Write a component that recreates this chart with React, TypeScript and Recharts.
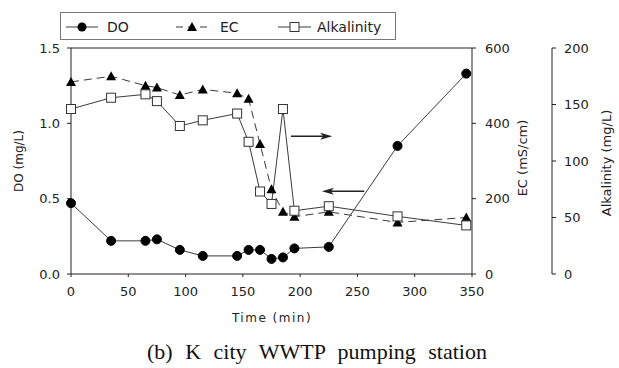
import React from "react";
import {
  ComposedChart,
  Line,
  XAxis,
  YAxis,
  ReferenceLine,
} from "recharts";

const times = [0, 35, 65, 75, 95, 115, 145, 155, 165, 175, 185, 195, 225, 285, 345];
const doValues = [0.47, 0.22, 0.22, 0.23, 0.16, 0.12, 0.12, 0.16, 0.16, 0.1, 0.11, 0.17, 0.18, 0.85, 1.33];
const ecValues = [510, 525, 500, 495, 475, 490, 480, 465, 345, 225, 165, 152, 165, 137, 150];
const alkValues = [146, 156, 159, 153, 131, 136, 142, 117, 73, 62, 146, 56, 60, 51, 43];

const xTicks = [0, 50, 100, 150, 200, 250, 300, 350];
const doTicks = [0, 0.5, 1.0, 1.5];
const ecTicks = [0, 200, 400, 600];
const alkTicks = [0, 50, 100, 150, 200];

// annotation arrows (in time / DO units)
const arrowRight = [{ x: 192, y: 0.915 }, { x: 228, y: 0.915 }];
const arrowLeft = [{ x: 256, y: 0.55 }, { x: 219, y: 0.55 }];

const data = times.map((t, i) => ({
  t,
  DO: doValues[i],
  EC: ecValues[i],
  Alk: alkValues[i],
}));

const FONT = "'DejaVu Sans', Verdana, sans-serif";
const AXIS = "#222";
const LINE = "#3a3a3a";

const EC_ID = "rightA_ec";
const ALK_ID = "rightB_alk";

const tickStyle = { fontSize: 13, fill: "#222", fontFamily: FONT };

const Circle = (p: any) => (
  <circle key={`c${p.index}`} cx={p.cx} cy={p.cy} r={4.5} fill="#000" stroke="#000" />
);
const Triangle = (p: any) => (
  <polygon
    key={`t${p.index}`}
    points={`${p.cx},${p.cy - 5} ${p.cx - 5},${p.cy + 4} ${p.cx + 5},${p.cy + 4}`}
    fill="#000"
  />
);
const Square = (p: any) => (
  <rect key={`s${p.index}`} x={p.cx - 4.5} y={p.cy - 4.5} width={9} height={9} fill="#fff" stroke="#333" strokeWidth={1} />
);

const Arrow = (p: any) => {
  const { x1, y1, x2, y2 } = p;
  const dir = x2 > x1 ? 1 : -1;
  return (
    <g>
      <line x1={x1} y1={y1} x2={x2 - dir * 8} y2={y2} stroke="#222" strokeWidth={1.5} />
      <polygon
        points={`${x2},${y2} ${x2 - dir * 12},${y2 - 3.5} ${x2 - dir * 9},${y2} ${x2 - dir * 12},${y2 + 3.5}`}
        fill="#222"
      />
    </g>
  );
};

const Legend = () => (
  <div
    style={{
      position: "absolute",
      left: 60,
      top: 12,
      width: 336,
      height: 28,
      border: "1px solid #777",
      boxSizing: "border-box",
      fontFamily: FONT,
      fontSize: 14,
      color: "#222",
    }}
  >
    <svg width={336} height={28} style={{ position: "absolute", left: 0, top: 0 }}>
      <line x1={5} y1={14} x2={37} y2={14} stroke={LINE} />
      <circle cx={21} cy={14} r={4.5} fill="#000" />
      <line x1={115} y1={14} x2={147} y2={14} stroke={LINE} strokeDasharray="7 5" />
      <polygon points="131,9 126,18 136,18" fill="#000" />
      <line x1={217} y1={14} x2={250} y2={14} stroke={LINE} />
      <rect x={229} y={9.5} width={9} height={9} fill="#fff" stroke="#333" />
      <text x={46} y={19} fontSize={14} fontFamily={FONT} fill="#222">DO</text>
      <text x={159} y={19} fontSize={14} fontFamily={FONT} fill="#222">EC</text>
      <text x={256} y={19} fontSize={14} fontFamily={FONT} fill="#222">Alkalinity</text>
    </svg>
  </div>
);

const rotLabel = (text: string, cx: number, cy: number, size: number) => (
  <div
    style={{
      position: "absolute",
      left: cx - 100,
      top: cy - 10,
      width: 200,
      height: 20,
      lineHeight: "20px",
      textAlign: "center",
      transform: "rotate(-90deg)",
      fontFamily: FONT,
      fontSize: size,
      color: "#222",
      whiteSpace: "nowrap",
    }}
  >
    {text}
  </div>
);

export default function App() {
  return (
    <div style={{ position: "absolute", left: 0, top: 0, width: 619, height: 368, background: "#fff" }}>
      <ComposedChart
        width={619}
        height={368}
        data={data}
        margin={{ top: 48, right: 7, bottom: 64, left: 11 }}
      >
        <XAxis
          dataKey="t"
          type="number"
          domain={[0, 350]}
          ticks={xTicks}
          tick={tickStyle}
          tickSize={3}
          tickMargin={10}
          height={30}
          stroke={AXIS}
          interval={0}
        />
        <YAxis
          yAxisId="do"
          orientation="left"
          domain={[0, 1.5]}
          ticks={doTicks}
          tickFormatter={(v: number) => v.toFixed(1)}
          tick={tickStyle}
          tickSize={4}
          tickMargin={7}
          width={60}
          stroke={AXIS}
          interval={0}
        />
        <YAxis
          yAxisId={EC_ID}
          orientation="right"
          domain={[0, 600]}
          ticks={ecTicks}
          tick={tickStyle}
          tickSize={4}
          tickMargin={9}
          width={80}
          stroke={AXIS}
          interval={0}
        />
        <YAxis
          yAxisId={ALK_ID}
          orientation="right"
          domain={[0, 200]}
          ticks={alkTicks}
          tick={tickStyle}
          tickSize={4}
          tickMargin={8}
          width={60}
          stroke={AXIS}
          interval={0}
        />
        <ReferenceLine yAxisId="do" y={1.5} stroke={AXIS} />
        <Line
          yAxisId={EC_ID}
          dataKey="EC"
          stroke={LINE}
          strokeWidth={1}
          strokeDasharray="8 5"
          dot={Triangle}
          isAnimationActive={false}
        />
        <Line
          yAxisId={ALK_ID}
          dataKey="Alk"
          stroke={LINE}
          strokeWidth={1}
          dot={Square}
          isAnimationActive={false}
        />
        <Line
          yAxisId="do"
          dataKey="DO"
          stroke={LINE}
          strokeWidth={1}
          dot={Circle}
          isAnimationActive={false}
        />
        <ReferenceLine
          yAxisId="do"
          segment={arrowRight}
          shape={Arrow}
          ifOverflow="visible"
        />
        <ReferenceLine
          yAxisId="do"
          segment={arrowLeft}
          shape={Arrow}
          ifOverflow="visible"
        />
      </ComposedChart>
      <Legend />
      {rotLabel("DO (mg/L)", 19, 161, 12)}
      {rotLabel("EC (mS/cm)", 523, 158, 13)}
      {rotLabel("Alkalinity (mg/L)", 607, 163, 13)}
      <div
        style={{
          position: "absolute",
          left: 172,
          width: 200,
          top: 311,
          textAlign: "center",
          fontFamily: FONT,
          fontSize: 12,
          letterSpacing: 1.5,
          color: "#222",
        }}
      >
        Time (min)
      </div>
      <div
        style={{
          position: "absolute",
          left: 17,
          width: 600,
          top: 339,
          textAlign: "center",
          fontFamily: "'Liberation Serif', 'Times New Roman', serif",
          fontSize: 22,
          wordSpacing: 7,
          color: "#111",
          whiteSpace: "nowrap",
        }}
      >
        (b) K city WWTP pumping station
      </div>
    </div>
  );
}
